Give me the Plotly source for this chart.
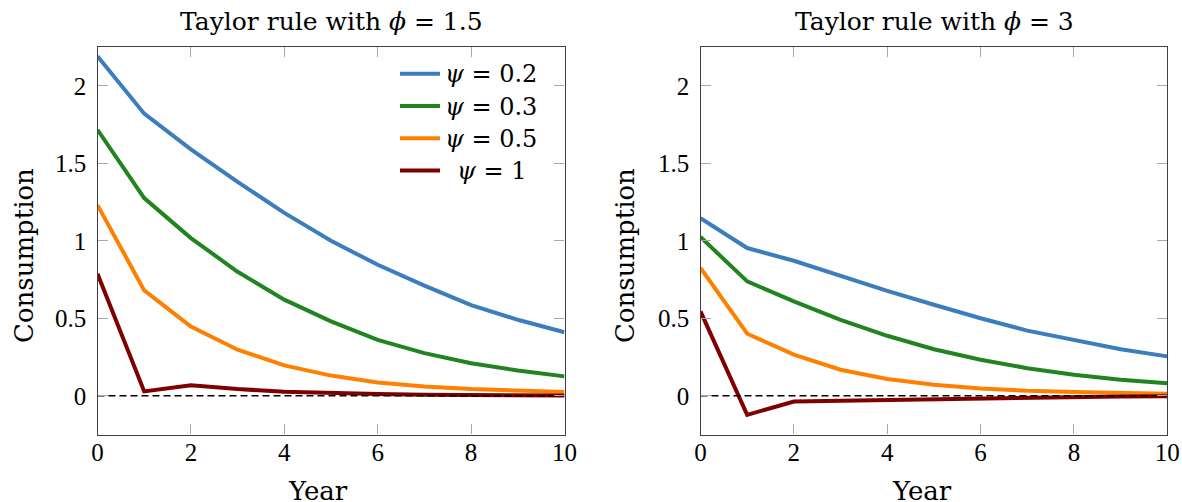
import plotly.graph_objects as go

years = list(range(11))

# Left panel: Taylor rule with phi = 1.5
left_psi02 = [2.19, 1.82, 1.59, 1.38, 1.18, 1.00, 0.845, 0.71, 0.585, 0.49, 0.41]
left_psi03 = [1.716, 1.275, 1.017, 0.80, 0.62, 0.48, 0.36, 0.275, 0.21, 0.163, 0.125]
left_psi05 = [1.23, 0.68, 0.447, 0.297, 0.196, 0.13, 0.086, 0.06, 0.043, 0.032, 0.024]
left_psi1 = [0.787, 0.028, 0.067, 0.043, 0.026, 0.017, 0.011, 0.007, 0.005, 0.003, 0.002]

# Right panel: Taylor rule with phi = 3
right_psi02 = [1.146, 0.953, 0.871, 0.774, 0.677, 0.587, 0.50, 0.42, 0.357, 0.30, 0.254]
right_psi03 = [1.024, 0.738, 0.609, 0.49, 0.387, 0.30, 0.232, 0.178, 0.135, 0.103, 0.08]
right_psi05 = [0.824, 0.40, 0.265, 0.168, 0.108, 0.071, 0.047, 0.032, 0.024, 0.017, 0.013]
right_psi1 = [0.544, -0.123, -0.037, -0.032, -0.025, -0.02, -0.015, -0.011, -0.008, -0.005, -0.003]

series_names = ["<i>ψ</i> = 0.2", "<i>ψ</i> = 0.3", "<i>ψ</i> = 0.5", "\u2002<i>ψ</i> = 1"]
colors = ["#3b7dbd", "#218421", "#ff8000", "#800000"]
titles = ["Taylor rule with <i>ϕ</i> = 1.5", "Taylor rule with <i>ϕ</i> = 3"]

x_ticks = [0, 2, 4, 6, 8, 10]
y_ticks = [0, 0.5, 1, 1.5, 2]
y_tick_text = ["0", "0.5", "1", "1.5", "2"]

TEXT_FONT = "DejaVu Serif"
TICK_FONT = "Liberation Serif"
W, H = 1182, 502

fig = go.Figure()

left = [left_psi02, left_psi03, left_psi05, left_psi1]
right = [right_psi02, right_psi03, right_psi05, right_psi1]

for i, ys in enumerate(left):
    fig.add_trace(go.Scatter(x=years, y=ys, mode="lines",
                             name='<span style="font-size:24px">' + series_names[i] + "</span>",
                             line=dict(color=colors[i], width=4),
                             xaxis="x", yaxis="y", showlegend=True))
for i, ys in enumerate(right):
    fig.add_trace(go.Scatter(x=years, y=ys, mode="lines", name=series_names[i],
                             line=dict(color=colors[i], width=4),
                             xaxis="x2", yaxis="y2", showlegend=False))
for xa, ya in [("x", "y"), ("x2", "y2")]:
    fig.add_trace(go.Scatter(x=[0, 10], y=[0, 0], mode="lines",
                             line=dict(color="black", width=1.3, dash="7px,4px"),
                             xaxis=xa, yaxis=ya, showlegend=False, hoverinfo="skip"))

def px_x(p):
    return p / W

def px_y(p):
    return 1 - p / H

ydom = [px_y(434.5), px_y(47)]
axis_common = dict(
    showgrid=False, zeroline=False, showline=True, linecolor="#404040", linewidth=1.3,
    mirror="ticks", ticks="inside", ticklen=10, tickcolor="#a8a8a8", tickwidth=1.3,
    tickfont=dict(family=TICK_FONT, size=25, color="black"),
    automargin=False,
)

fig.update_layout(
    width=W, height=H, autosize=False,
    margin=dict(l=0, r=0, t=0, b=0, pad=0, autoexpand=False),
    plot_bgcolor="white", paper_bgcolor="white",
    font=dict(family=TEXT_FONT, color="black"),
    xaxis=dict(domain=[px_x(97.5), px_x(564.5)], range=[0, 10], tickvals=x_ticks,
               anchor="y", ticklabelstandoff=-5, **axis_common),
    yaxis=dict(domain=ydom, range=[-0.25, 2.25], tickvals=y_ticks, ticktext=y_tick_text,
               anchor="x", ticklabelstandoff=5, **axis_common),
    xaxis2=dict(domain=[px_x(700.5), px_x(1167.3)], range=[0, 10], tickvals=x_ticks,
                anchor="y2", ticklabelstandoff=-5, **axis_common),
    yaxis2=dict(domain=ydom, range=[-0.25, 2.25], tickvals=y_ticks, ticktext=y_tick_text,
                anchor="x2", ticklabelstandoff=5, **axis_common),
    legend=dict(x=px_x(395), y=px_y(52.5), xanchor="left", yanchor="top",
                bgcolor="rgba(255,255,255,0)", borderwidth=0,
                font=dict(family=TEXT_FONT, size=22.5, color="black"),
                itemwidth=40, tracegroupgap=0),
    showlegend=True,
)

annotations = []
for cx, t in [(332, titles[0]), (935, titles[1])]:
    annotations.append(dict(text=t, x=px_x(cx), y=px_y(22), xref="paper", yref="paper",
                            showarrow=False, xanchor="center", yanchor="middle",
                            font=dict(family=TEXT_FONT, size=25, color="black")))
for cx in [318, 922]:
    annotations.append(dict(text="Year", x=px_x(cx), y=px_y(491), xref="paper", yref="paper",
                            showarrow=False, xanchor="center", yanchor="middle",
                            font=dict(family=TEXT_FONT, size=26, color="black")))
for cx in [24, 625]:
    annotations.append(dict(text="Consumption", x=px_x(cx), y=px_y(256), xref="paper", yref="paper",
                            showarrow=False, xanchor="center", yanchor="middle", textangle=-90,
                            font=dict(family=TEXT_FONT, size=26, color="black")))
fig.update_layout(annotations=annotations)

fig.write_html("out.html")
